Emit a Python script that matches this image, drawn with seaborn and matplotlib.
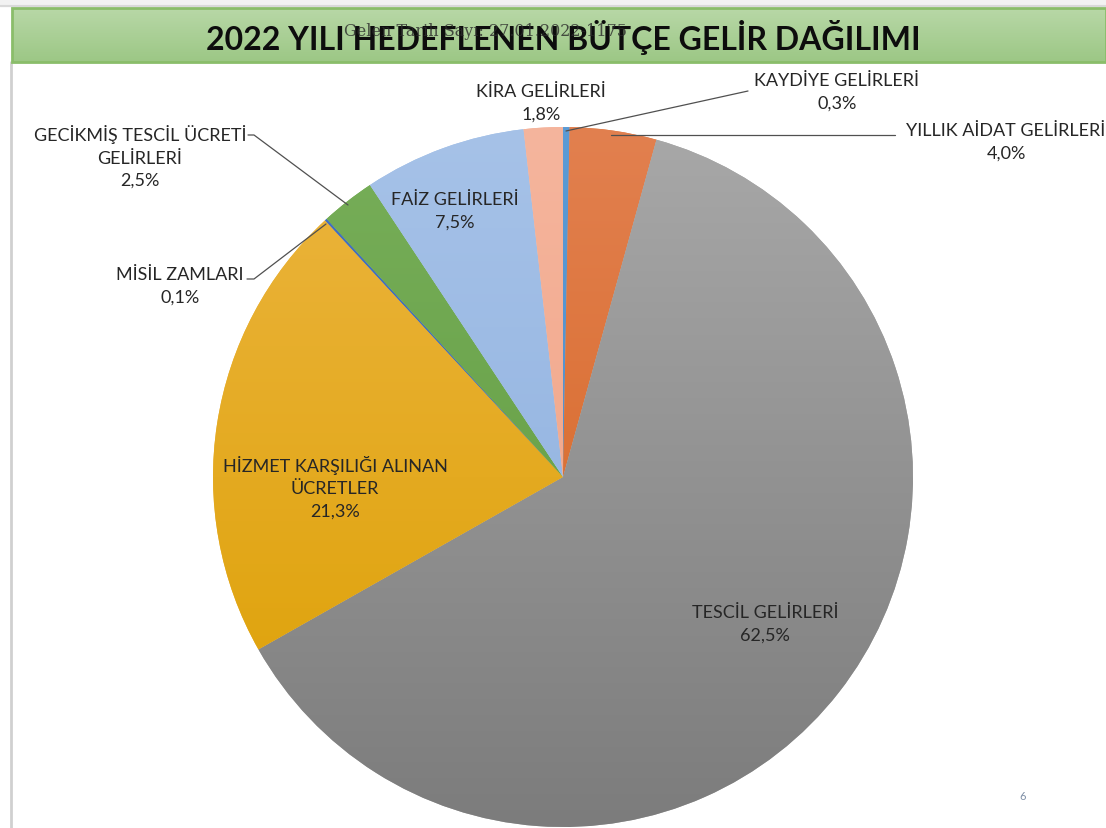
#%%
import numpy as np
import pandas as pd
import seaborn as sns
import matplotlib.pyplot as plt
from matplotlib.colors import LinearSegmentedColormap
from matplotlib.patches import Rectangle

# %%
# slices in clockwise order starting from 12 o'clock
labels = ['KAYDİYE GELİRLERİ', 'YILLIK AİDAT GELİRLERİ', 'TESCİL GELİRLERİ',
          'HİZMET KARŞILIĞI ALINAN\nÜCRETLER', 'MİSİL ZAMLARI',
          'GECİKMİŞ TESCİL ÜCRETİ\nGELİRLERİ', 'FAİZ GELİRLERİ', 'KİRA GELİRLERİ']
values = [0.3, 4.0, 62.5, 21.3, 0.1, 2.5, 7.5, 1.8]
colors_top = ['#5b9bd5', '#e2804f', '#a8a8a8', '#ecb540', '#4472c4', '#77ae59', '#a6c2e8', '#f5b59d']
colors_bottom = ['#4a88c6', '#d4621c', '#7c7c7c', '#dc9f00', '#3a62ad', '#5f9a3e', '#8aaddd', '#ef9f80']

df = pd.DataFrame(dict(label=labels, pct=values))
df['text'] = df.label + '\n' + df.pct.map(lambda v: f'{v:.1f}%'.replace('.', ','))

title = '2022 YILI HEDEFLENEN BÜTÇE GELİR DAĞILIMI'
stamp = 'Gelen Tarih Sayı: 27.01.2022-1175'

# %%
sns.set_theme(style='white')
plt.rcParams['font.family'] = ['Lato', 'DejaVu Sans']

W, H = 1106, 829
fig = plt.figure(figsize=(11.06, 8.29), dpi=100)
ax = fig.add_axes([0, 0, 1, 1])

cx, cy, r = 563, H - 478, 350
wedges, _ = ax.pie(df.pct, startangle=90, counterclock=False, center=(cx, cy),
                   radius=r, colors=colors_top, wedgeprops=dict(linewidth=0))

# vertical gradient fill like the excel chart
grad = np.linspace(0, 1, 256).reshape(-1, 1)
for w, c1, c2 in zip(wedges, colors_top, colors_bottom):
    cmap = LinearSegmentedColormap.from_list('g', [c1, c2])
    im = ax.imshow(grad, cmap=cmap, extent=[cx - r, cx + r, cy - r, cy + r],
                   aspect='auto', origin='upper', zorder=2)
    im.set_clip_path(w)

# slide frame + title band
ax.add_patch(Rectangle((0, H - 7), W, 7, color='#f2f2f2', zorder=0))
ax.plot([0, W], [H - 7, H - 7], color='#d9d9d9', lw=1.5, zorder=1)
ax.plot([11, 11], [0, H - 63], color='#d0d0d0', lw=2, zorder=1)
band = LinearSegmentedColormap.from_list('band', ['#b8d8a7', '#9cc785'])
ax.imshow(grad, cmap=band, extent=[12, W, H - 63, H - 9], aspect='auto', origin='upper', zorder=3)
ax.add_patch(Rectangle((12, H - 63), W - 12, 54, fill=False, edgecolor='#8abd6a', lw=2, zorder=4))
ax.text(563, H - 37, title, ha='center', va='center', fontsize=23, fontweight='bold',
        color='#0d0d0d', zorder=5)
ax.text(485, H - 31, stamp, ha='center', va='center', fontsize=11.5, family='DejaVu Serif',
        color='#2a2a2a', alpha=0.8, zorder=6)

# data labels (pixel positions from top)
pos = [(837, 92), (1006, 142), (765, 624), (335, 488), (180, 286), (140, 157), (455, 211), (541, 103)]
txt = '#262626'
for (x, y), s in zip(pos, df.text):
    ax.text(x, H - y, s, ha='center', va='center', fontsize=13, color=txt,
            linespacing=1.5, zorder=5)

# leader lines
lc = '#505050'
ax.plot([566, 748], [H - 132, H - 92], color=lc, lw=0.9, zorder=5)
ax.plot([611, 895], [H - 136, H - 136], color=lc, lw=0.9, zorder=5)
ax.plot([248, 254, 348], [H - 136, H - 136, H - 206], color=lc, lw=0.9, zorder=5)
ax.plot([247, 254, 326], [H - 280, H - 280, H - 225], color=lc, lw=0.9, zorder=5)

ax.text(1023, H - 797, '6', ha='center', va='center', fontsize=8, color='#7f8fa6')

ax.set_xlim(0, W)
ax.set_ylim(0, H)
ax.set_aspect('auto')
ax.axis('off')
plt.savefig('out.png', dpi=100)
